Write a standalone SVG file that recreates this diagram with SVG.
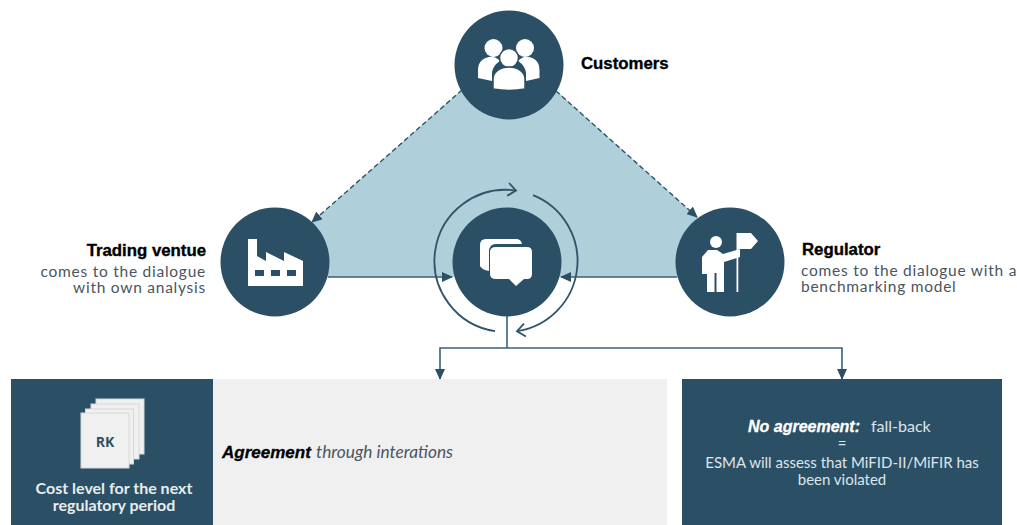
<svg xmlns="http://www.w3.org/2000/svg" width="1017" height="525" viewBox="0 0 1017 525">
<style>
.c{fill:#2b5066}
.w{fill:#fff}
.b{font-family:"Liberation Sans",Arial,sans-serif;font-weight:700;font-size:16.8px;fill:#000;stroke:#000;stroke-width:.35}
.t{font-family:Lato,"Open Sans",sans-serif;font-size:15.5px;letter-spacing:.75px;fill:#4a5560}
.l{font-family:Lato,"Open Sans",sans-serif;font-size:15px;fill:#dfe5e9}
.k{font-family:Lato,sans-serif;font-weight:700;font-size:16px;fill:#e8ecee}
.line{fill:none;stroke:#3b5f75;stroke-width:1.6}
.ring{fill:none;stroke:#2f5469;stroke-width:1.8}
.dash{fill:none;stroke:#2f5469;stroke-width:1.4;stroke-dasharray:5 3}
</style>
<defs>
<marker id="a" markerUnits="userSpaceOnUse" markerWidth="12" markerHeight="10" refX="10" refY="5" orient="auto"><path d="M0 0L11 5L0 10Z" fill="#2b5066"/></marker>
<marker id="o" markerUnits="userSpaceOnUse" markerWidth="14" markerHeight="16" refX="11" refY="8" orient="auto"><path d="M3 1.500L11 8L3 14.500" fill="none" stroke="#2f5469" stroke-width="1.800"/></marker>
</defs>
<polygon id="triangle" points="509,48 312,222 312,277 697,277 697,217" fill="#afcfdb"/>
<g id="connectors">
<path class="dash" d="M462 90L312 222" marker-end="url(#a)"/>
<path class="dash" d="M556 91L697 217" marker-end="url(#a)"/>
<path class="line" d="M328 277H452" marker-end="url(#a)"/>
<path class="line" d="M677 277H561" marker-end="url(#a)"/>
<path class="line" d="M507 316V348"/>
<path class="line" d="M440 379V348H842V379"/>
<path class="line" d="M440 370V379" marker-end="url(#a)"/>
<path class="line" d="M842 370V379" marker-end="url(#a)"/>
<path class="ring" d="M495 331.100A71 71 0 0 1 516 190.600" marker-end="url(#o)"/>
<path class="ring" d="M533 195.100A71 71 0 0 1 517 331.200" marker-end="url(#o)"/>
</g>
<g id="customers">
<circle class="c" cx="509" cy="65" r="54.500"/>
<circle class="w" cx="493.500" cy="48" r="9"/><circle class="w" cx="525" cy="48" r="9"/>
<path class="w" d="M478 78V70C478 61 485 56 494 57C497 58 499 60 500 61C496 63 492 69 492 73V81Z"/>
<path class="w" d="M539.500 78V70C539.500 61 533 56 524 57C521 58 519 60 518 61C522 63 526 69 526 73V81Z"/>
<circle class="w" cx="509" cy="58" r="9.500" stroke="#2b5066" stroke-width="1.500"/>
<path class="w" d="M493 89V79C493 72 500 67 509 67C518 67 525 72 525 79V89Q509 92 493 89Z" stroke="#2b5066" stroke-width="1.500"/>
<text class="b" x="581" y="69">Customers</text>
</g>
<g id="trading-venture">
<circle class="c" cx="275" cy="262" r="54.500"/>
<path class="w" d="M248 239H257V256L266 261V252L284 261V252L303 261V286H248Z"/>
<rect class="c" x="255" y="270" width="9" height="6"/><rect class="c" x="271" y="270" width="9" height="6"/><rect class="c" x="287" y="270" width="9" height="6"/>
<text class="b" x="206" y="256" text-anchor="end">Trading ventue</text>
<text class="t" x="206" y="277" text-anchor="end">comes to the dialogue</text>
<text class="t" x="206" y="293" text-anchor="end">with own analysis</text>
</g>
<g id="dialogue">
<circle class="c" cx="507" cy="262" r="54.500"/>
<path class="w" d="M486 239H516Q521 239 522 244H496Q489 244 489 252V271Q482 270 480 266V245Q480 239 486 239Z"/>
<path class="w" d="M496 247H527Q532 247 532 252V274Q532 279 527 279H524L516 286L509 279H496Q490 279 490 274V252Q490 247 496 247Z"/>
</g>
<g id="regulator">
<circle class="c" cx="730" cy="262" r="54.500"/>
<circle class="w" cx="716" cy="242" r="6"/>
<path class="w" d="M708 250H717L723 254L740 249V257L724 262V292H716.500V273H714.500V292H707V274H702V257Z"/>
<rect class="w" x="736.500" y="233" width="1.800" height="59"/>
<path class="w" d="M737 233H751L758 241L751 249H737Z"/>
<text class="b" x="802" y="255">Regulator</text>
<text class="t" x="801" y="276">comes to the dialogue with a</text>
<text class="t" x="801" y="292">benchmarking model</text>
</g>
<g id="cost-level">
<rect class="c" x="11" y="379" width="202" height="146"/>
<rect x="96" y="399" width="48" height="55" fill="#f0f0f0" stroke="#d5d8da"/>
<rect x="91" y="404" width="48" height="55" fill="#f0f0f0" stroke="#d5d8da"/>
<rect x="85.500" y="409" width="48" height="55" fill="#f0f0f0" stroke="#d5d8da"/>
<rect x="81" y="413" width="48" height="55" fill="#f0f0f0" stroke="#d5d8da"/>
<text x="105" y="447" text-anchor="middle" font-family="'Open Sans',sans-serif" font-weight="700" font-size="14" fill="#2b5066">RK</text>
<text class="k" x="114" y="494" text-anchor="middle">Cost level for the next</text>
<text class="k" x="114" y="511" text-anchor="middle">regulatory period</text>
</g>
<g id="agreement">
<rect x="213" y="379" width="454" height="146" fill="#f0f0f0"/>
<text x="222" y="458" font-family="'Liberation Sans',sans-serif" font-size="17" font-weight="700" font-style="italic" fill="#000" stroke="#000" stroke-width=".3">Agreement</text>
<text x="316" y="458" font-family="Lato,sans-serif" font-size="17.300" font-style="italic" fill="#4a5560">through interations</text>
</g>
<g id="no-agreement">
<rect class="c" x="682" y="379" width="320" height="146"/>
<text x="748" y="432" font-family="'Liberation Sans',sans-serif" font-size="16" font-weight="700" font-style="italic" fill="#fff" stroke="#fff" stroke-width=".3">No agreement:</text>
<text class="l" x="871" y="432" style="font-size:16px">fall-back</text>
<text class="l" x="842" y="449" text-anchor="middle">=</text>
<text class="l" x="842" y="468" text-anchor="middle">ESMA will assess that MiFID-II/MiFIR has</text>
<text class="l" x="842" y="485" text-anchor="middle">been violated</text>
</g>
</svg>
